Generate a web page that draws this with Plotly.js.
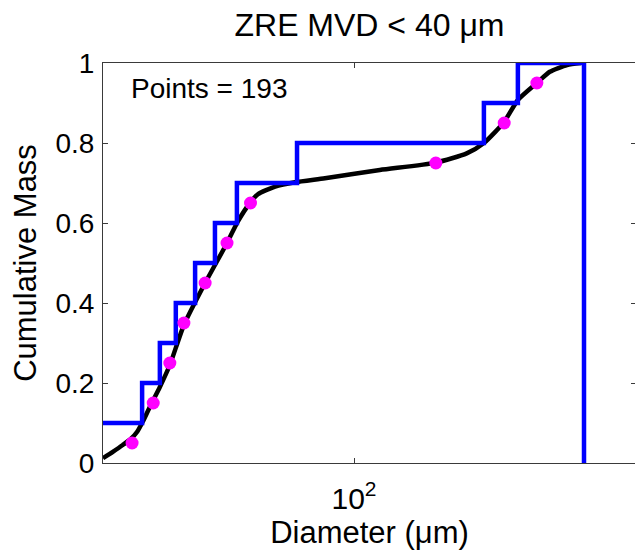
<!DOCTYPE html>
<html>
<head>
<meta charset="utf-8">
<script src="https://cdn.plot.ly/plotly-3.0.1.min.js"></script>
<style>
  html, body { margin: 0; padding: 0; overflow: hidden; background: #fff; }
  #chart { width: 640px; height: 557px; }
</style>
</head>
<body>
<div id="chart"></div>
<script>
// Cumulative mass distribution, ZRE cases with MVD < 40 um

// binned cumulative mass (stairs): bin edges (um) and levels
const binDiameter = [15, 25.7, 28.8, 31.9, 36.1, 41.0, 47.2, 69.4, 230, 286, 437];
const binCumMass  = [0.1, 0.2, 0.3, 0.4, 0.5, 0.6, 0.7, 0.8, 0.9, 1.0, 0.0];

// bin mid-level markers
const midDiameter = [24.1, 27.6, 30.7, 33.6, 38.5, 44.3, 51.5, 169, 262, 323];
const midCumMass  = [0.05, 0.15, 0.25, 0.35, 0.45, 0.55, 0.65, 0.75, 0.85, 0.95];

// smooth fitted cumulative curve
const fitDiameter = [20.0, 21.3, 22.7, 23.9, 24.9, 25.8, 27.0, 28.8, 30.7, 33.6, 38.5, 44.3,
                     47.5, 51.3, 54.0, 60.3, 68.5, 83.0, 118, 169, 206, 230, 262, 286,
                     323, 351, 392, 428];
const fitCumMass  = [0.012, 0.028, 0.045, 0.060, 0.078, 0.103, 0.140, 0.190, 0.245, 0.345, 0.450, 0.550,
                     0.604, 0.650, 0.672, 0.691, 0.702, 0.712, 0.7325, 0.751, 0.774, 0.800, 0.853, 0.9075,
                     0.950, 0.978, 0.995, 1.0];

const pointCount = 193;
const yTicks = [0, 0.2, 0.4, 0.6, 0.8, 1];
const yTickText = ['0', '0.2', '0.4', '0.6', '0.8', '1'];
const xTicks = [100];
const xTickText = ['10<sup>2</sup>'];

const FONT = 'Liberation Sans, Arial, Helvetica, sans-serif';
const AXIS_COLOR = '#3a3a3a';

const xMin = 20;
const pxPerDecade = 359.1;
const plotWidthPx = 533;
const xRange = [Math.log10(xMin), Math.log10(xMin) + plotWidthPx / pxPerDecade];

const traces = [
  {
    x: fitDiameter, y: fitCumMass, type: 'scatter', mode: 'lines',
    line: { color: '#000000', width: 4.5, shape: 'spline', smoothing: 0.6 },
    hoverinfo: 'skip', showlegend: false
  },
  {
    x: binDiameter, y: binCumMass, type: 'scatter', mode: 'lines',
    line: { color: '#0000ff', width: 4.5, shape: 'hv' },
    hoverinfo: 'skip', showlegend: false
  },
  {
    x: midDiameter, y: midCumMass, type: 'scatter', mode: 'markers',
    marker: { color: '#ff00ff', size: 13, line: { width: 0 } },
    hoverinfo: 'skip', showlegend: false
  }
];

const axisCommon = {
  showline: true, linecolor: AXIS_COLOR, linewidth: 1, mirror: 'ticks',
  ticks: 'inside', ticklen: 5, tickwidth: 1, tickcolor: AXIS_COLOR,
  showgrid: false, zeroline: false,
  tickfont: { family: FONT, size: 28, color: '#000' }
};

const layout = {
  width: 640, height: 557,
  margin: { l: 103, r: 4, t: 63, b: 94 },
  paper_bgcolor: '#ffffff', plot_bgcolor: '#ffffff',
  title: {
    text: 'ZRE MVD &lt; 40 \u03bcm',
    font: { family: FONT, size: 32, color: '#000' },
    xref: 'paper', x: 0.5, xanchor: 'center',
    yref: 'container', y: 1 - 25 / 557, yanchor: 'middle'
  },
  xaxis: Object.assign({}, axisCommon, {
    type: 'log', range: xRange,
    tickmode: 'array', tickvals: xTicks, ticktext: xTickText,
    ticklabelstandoff: 9,
    tickfont: { family: FONT, size: 30, color: '#000' },
    title: { text: 'Diameter (\u03bcm)', font: { family: FONT, size: 31, color: '#000' }, standoff: 7 }
  }),
  yaxis: Object.assign({}, axisCommon, {
    range: [0, 1],
    tickmode: 'array', tickvals: yTicks, ticktext: yTickText,
    ticklabelstandoff: 2,
    title: { text: 'Cumulative Mass', font: { family: FONT, size: 31, color: '#000' }, standoff: 9 }
  }),
  annotations: [{
    text: 'Points = ' + pointCount,
    xref: 'paper', yref: 'paper', x: (129 - 103) / 533, y: (463 - 88) / 400,
    xanchor: 'left', yanchor: 'middle', showarrow: false,
    font: { family: FONT, size: 28, color: '#000' }
  }]
};

Plotly.newPlot('chart', traces, layout, { staticPlot: true, displayModeBar: false });
</script>
</body>
</html>
